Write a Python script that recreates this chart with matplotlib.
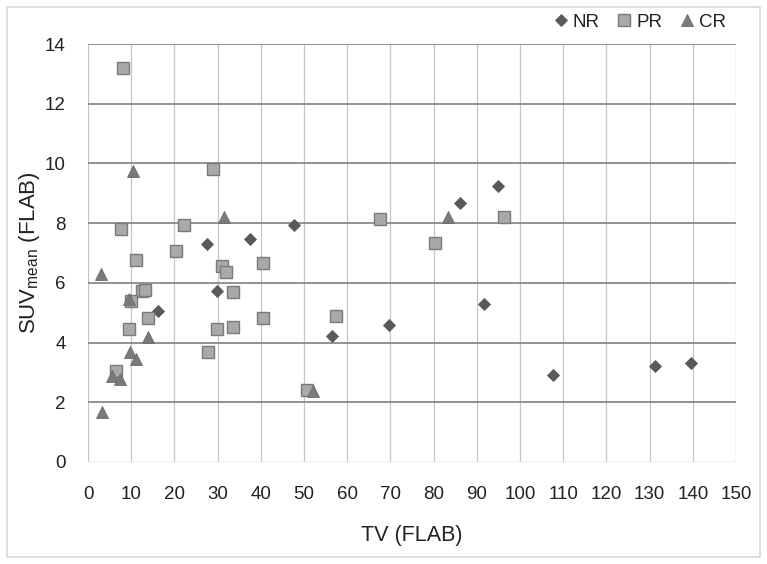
import matplotlib
matplotlib.use("Agg")
import matplotlib.pyplot as plt
from matplotlib.patches import Rectangle

# ---- data ----
nr_x = [27.6, 29.8, 37.5, 16.2, 47.7, 56.5, 69.6, 86.2, 91.6, 94.8, 107.7, 131.3, 139.6]
nr_y = [7.30, 5.74, 7.47, 5.05, 7.93, 4.23, 4.60, 8.66, 5.30, 9.24, 2.92, 3.21, 3.33]

pr_x = [8.1, 29.0, 7.7, 22.3, 11.2, 20.4, 31.0, 31.9, 40.6, 12.6, 13.3, 33.5, 10.0,
        14.0, 9.6, 29.8, 33.5, 40.6, 27.8, 6.5, 57.4, 50.6, 67.5, 80.3, 96.4]
pr_y = [13.19, 9.80, 7.80, 7.95, 6.78, 7.06, 6.56, 6.37, 6.67, 5.72, 5.75, 5.69, 5.39,
        4.81, 4.44, 4.44, 4.53, 4.83, 3.67, 3.04, 4.90, 2.42, 8.14, 7.34, 8.21]

cr_x = [10.4, 31.4, 2.9, 9.5, 13.8, 9.8, 11.0, 5.6, 7.5, 3.2, 52.1, 83.4]
cr_y = [9.75, 8.20, 6.28, 5.45, 4.20, 3.67, 3.46, 2.89, 2.78, 1.69, 2.39, 8.20]

series_names = ["NR", "PR", "CR"]
x_ticks = list(range(0, 151, 10))
y_ticks = list(range(0, 15, 2))

# ---- style ----
plt.rcParams['font.family'] = ['Liberation Sans', 'DejaVu Sans']
plt.rcParams['mathtext.fontset'] = 'custom'
plt.rcParams['mathtext.rm'] = 'Liberation Sans'
plt.rcParams['mathtext.it'] = 'Liberation Sans'

fig = plt.figure(figsize=(7.67, 5.64), dpi=100)
W, H = 767, 564
L, R, T, B = 88, 736, 44, 462
ax = fig.add_axes([L / W, 1 - B / H, (R - L) / W, (B - T) / H])

# outer chart border
fig.patches.append(Rectangle((7 / W, 1 - 557 / H), (760 - 7) / W, (557 - 7) / H,
                             transform=fig.transFigure, fill=False,
                             edgecolor='#d9d9d9', linewidth=1.2))

ax.set_xlim(0, 150)
ax.set_ylim(0, 14)
ax.set_xticks(x_ticks)
ax.set_yticks(y_ticks)
ax.set_xticklabels([str(v) for v in x_ticks])
ax.set_yticklabels([str(v) for v in y_ticks])

for v in x_ticks:
    ax.axvline(v, color='#c6c6c6', linewidth=0.9, zorder=0)
for v in y_ticks[1:]:
    ax.axhline(v, color='#8a8a8a', linewidth=1.3, zorder=0)
ax.axhline(0, color='#bdbdbd', linewidth=1.0, zorder=0)

for s in ax.spines.values():
    s.set_visible(False)
ax.tick_params(axis='both', length=0, labelsize=13.5, colors='#222222')
ax.tick_params(axis='x', pad=17)
ax.tick_params(axis='y', pad=16)

ms_style = dict(linestyle='none', zorder=3)
ax.plot(nr_x, nr_y, marker='D', markersize=6.3, markerfacecolor='#595959',
        markeredgecolor='#595959', markeredgewidth=0.6, label=series_names[0], **ms_style)
ax.plot(pr_x, pr_y, marker='s', markersize=8.8, markerfacecolor='#a9a9a9',
        markeredgecolor='#7a7a7a', markeredgewidth=1.0, label=series_names[1], **ms_style)
ax.plot(cr_x, cr_y, marker='^', markersize=9.2, markerfacecolor='#7a7a7a',
        markeredgecolor='#6a6a6a', markeredgewidth=0.6, label=series_names[2], **ms_style)

ax.set_xlabel('TV (FLAB)', fontsize=15.5, color='#222222', labelpad=16)
ax.set_ylabel(r'SUV$_{\mathrm{mean}}$ (FLAB)', fontsize=16, color='#222222', labelpad=2)

leg = fig.legend(loc='center right', bbox_to_anchor=(726 / W, 1 - 22 / H), ncol=3,
                 frameon=False, fontsize=13.5, handlelength=0.8, handletextpad=0.25,
                 columnspacing=0.9, borderaxespad=0, borderpad=0)
for t in leg.get_texts():
    t.set_color('#222222')

fig.savefig('out.png', dpi=100)
